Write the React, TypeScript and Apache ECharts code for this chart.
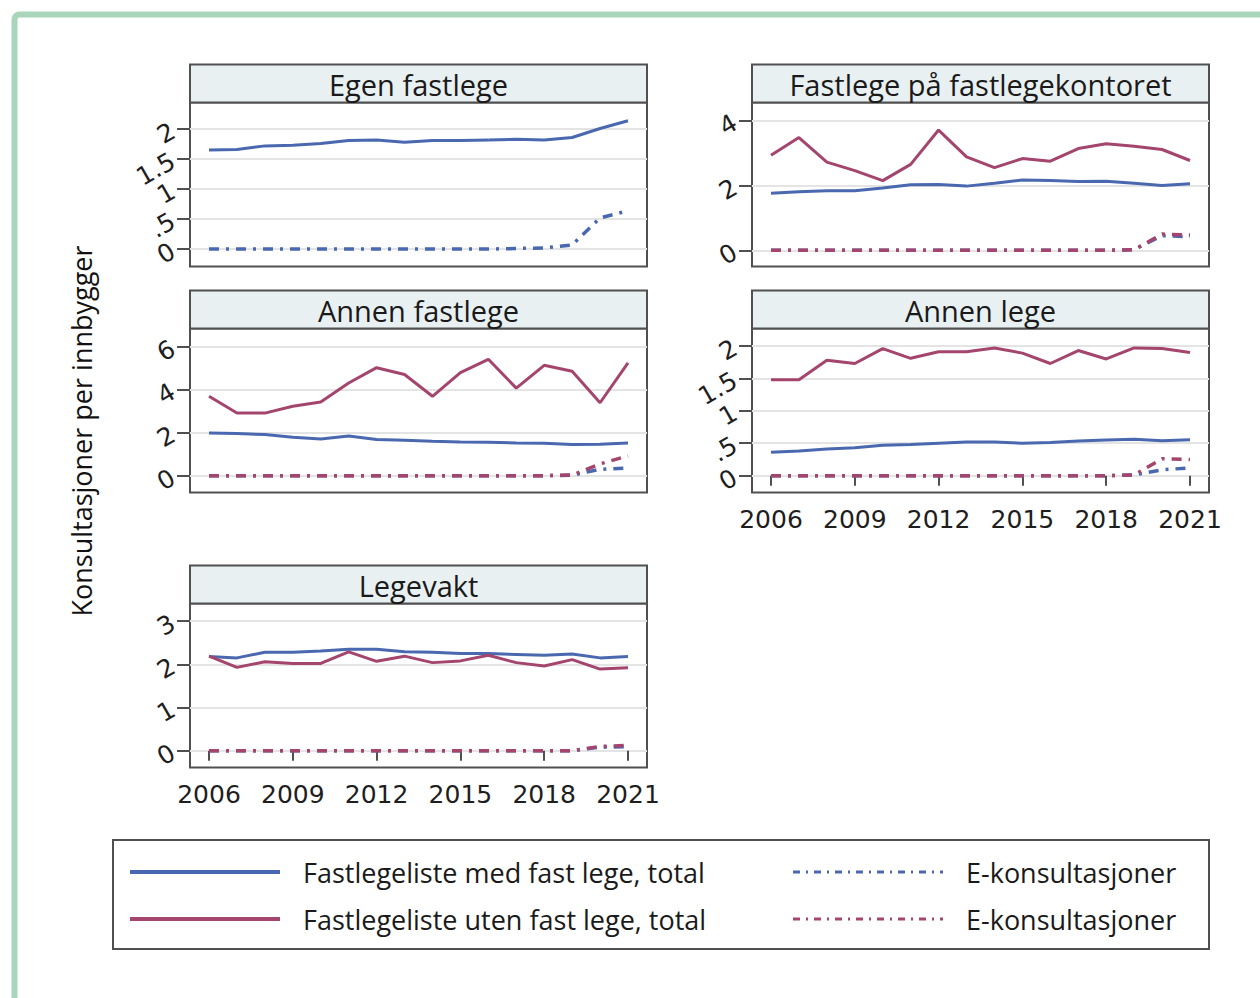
import React, { useEffect, useRef } from "react";
import * as echarts from "echarts";

// ---------- data ----------
const years = [2006, 2007, 2008, 2009, 2010, 2011, 2012, 2013, 2014, 2015, 2016, 2017, 2018, 2019, 2020, 2021];
const xTickYears = [2006, 2009, 2012, 2015, 2018, 2021];

const panelTitles = [
  "Egen fastlege",
  "Fastlege på fastlegekontoret",
  "Annen fastlege",
  "Annen lege",
  "Legevakt",
];

const legendLabels = [
  "Fastlegeliste med fast lege, total",
  "Fastlegeliste uten fast lege, total",
  "E-konsultasjoner",
  "E-konsultasjoner",
];
const yAxisTitle = "Konsultasjoner per innbygger";

// Egen fastlege
const egenMedTotal = [1.65, 1.66, 1.72, 1.73, 1.76, 1.81, 1.82, 1.78, 1.81, 1.81, 1.82, 1.83, 1.82, 1.86, 2.01, 2.14];
const egenMedE = [0, 0, 0, 0, 0, 0, 0, 0, 0, 0, 0, 0.01, 0.02, 0.07, 0.52, 0.64];

// Fastlege på fastlegekontoret
const kontorMedTotal = [1.76, 1.81, 1.84, 1.84, 1.92, 2.02, 2.03, 1.98, 2.07, 2.17, 2.15, 2.12, 2.13, 2.07, 2.0, 2.05];
const kontorUtenTotal = [2.93, 3.48, 2.72, 2.46, 2.15, 2.65, 3.71, 2.88, 2.55, 2.83, 2.75, 3.14, 3.29, 3.21, 3.11, 2.77];
const kontorMedE = [0, 0, 0, 0, 0, 0, 0, 0, 0, 0, 0, 0, 0, 0.02, 0.45, 0.42];
const kontorUtenE = [0, 0, 0, 0, 0, 0, 0, 0, 0, 0, 0, 0, 0, 0.02, 0.5, 0.47];

// Annen fastlege
const annenFMedTotal = [1.99, 1.96, 1.91, 1.79, 1.71, 1.84, 1.68, 1.65, 1.6, 1.57, 1.56, 1.52, 1.51, 1.45, 1.46, 1.52];
const annenFUtenTotal = [3.69, 2.91, 2.91, 3.23, 3.42, 4.31, 5.02, 4.7, 3.69, 4.79, 5.41, 4.07, 5.13, 4.85, 3.39, 5.24];
const annenFMedE = [0, 0, 0, 0, 0, 0, 0, 0, 0, 0, 0, 0, 0, 0.02, 0.3, 0.35];
const annenFUtenE = [0, 0, 0, 0, 0, 0, 0, 0, 0, 0, 0, 0, 0, 0.03, 0.55, 0.92];

// Annen lege
const annenLMedTotal = [0.36, 0.38, 0.41, 0.43, 0.47, 0.48, 0.5, 0.52, 0.52, 0.5, 0.51, 0.535, 0.55, 0.56, 0.54, 0.555];
const annenLUtenTotal = [1.48, 1.48, 1.78, 1.73, 1.96, 1.81, 1.91, 1.91, 1.97, 1.89, 1.73, 1.93, 1.8, 1.97, 1.96, 1.9];
const annenLMedE = [0, 0, 0, 0, 0, 0, 0, 0, 0, 0, 0, 0, 0, 0.01, 0.09, 0.12];
const annenLUtenE = [0, 0, 0, 0, 0, 0, 0, 0, 0, 0, 0, 0, 0, 0.01, 0.26, 0.25];

// Legevakt
const vaktMedTotal = [2.18, 2.15, 2.28, 2.28, 2.31, 2.35, 2.35, 2.29, 2.28, 2.25, 2.25, 2.23, 2.21, 2.24, 2.15, 2.18];
const vaktUtenTotal = [2.19, 1.93, 2.06, 2.02, 2.02, 2.29, 2.07, 2.19, 2.04, 2.08, 2.21, 2.04, 1.96, 2.11, 1.89, 1.92];
const vaktMedE = [0, 0, 0, 0, 0, 0, 0, 0, 0, 0, 0, 0, 0, 0, 0.08, 0.09];
const vaktUtenE = [0, 0, 0, 0, 0, 0, 0, 0, 0, 0, 0, 0, 0, 0, 0.1, 0.12];

// y tick values
const yTicksEgen = [0, 0.5, 1, 1.5, 2];
const yTicksKontor = [0, 2, 4];
const yTicksAnnenF = [0, 2, 4, 6];
const yTicksAnnenL = [0, 0.5, 1, 1.5, 2];
const yTicksVakt = [0, 1, 2, 3];

// ---------- styling ----------
const BLUE = "#4a68b0";
const RED = "#a4456e";
const FRAME = "#505050";
const HEADER_BG = "#e8f0f2";
const DASH = [10, 7, 3, 7];
const TITLE_FONT = '"Open Sans", "Liberation Sans", sans-serif';
const TICK_FONT = '"DejaVu Sans", sans-serif';

const PANEL_W = 457;
const PLOT_H = 164;
const HEADER_H = 38;

type S = { data: number[]; color: string; dashed: boolean };
type Panel = {
  title: string;
  left: number;
  top: number;
  yMin: number;
  yMax: number;
  yTicks: number[];
  showX: boolean;
  series: S[];
};

const panels: Panel[] = [
  {
    title: panelTitles[0], left: 190, top: 102.5, yMin: -0.29, yMax: 2.443, yTicks: yTicksEgen, showX: false,
    series: [
      { data: egenMedTotal, color: BLUE, dashed: false },
      { data: egenMedE, color: BLUE, dashed: true },
    ],
  },
  {
    title: panelTitles[1], left: 752, top: 102.5, yMin: -0.5, yMax: 4.56, yTicks: yTicksKontor, showX: false,
    series: [
      { data: kontorMedTotal, color: BLUE, dashed: false },
      { data: kontorUtenTotal, color: RED, dashed: false },
      { data: kontorMedE, color: BLUE, dashed: true },
      { data: kontorUtenE, color: RED, dashed: true },
    ],
  },
  {
    title: panelTitles[2], left: 190, top: 328.5, yMin: -0.78, yMax: 6.84, yTicks: yTicksAnnenF, showX: false,
    series: [
      { data: annenFMedTotal, color: BLUE, dashed: false },
      { data: annenFUtenTotal, color: RED, dashed: false },
      { data: annenFMedE, color: BLUE, dashed: true },
      { data: annenFUtenE, color: RED, dashed: true },
    ],
  },
  {
    title: panelTitles[3], left: 752, top: 328.5, yMin: -0.26, yMax: 2.27, yTicks: yTicksAnnenL, showX: true,
    series: [
      { data: annenLMedTotal, color: BLUE, dashed: false },
      { data: annenLUtenTotal, color: RED, dashed: false },
      { data: annenLMedE, color: BLUE, dashed: true },
      { data: annenLUtenE, color: RED, dashed: true },
    ],
  },
  {
    title: panelTitles[4], left: 190, top: 603.5, yMin: -0.39, yMax: 3.41, yTicks: yTicksVakt, showX: true,
    series: [
      { data: vaktMedTotal, color: BLUE, dashed: false },
      { data: vaktUtenTotal, color: RED, dashed: false },
      { data: vaktMedE, color: BLUE, dashed: true },
      { data: vaktUtenE, color: RED, dashed: true },
    ],
  },
];

const fmtY = (v: number) => {
  const s = String(v);
  return v > 0 && v < 1 ? s.replace(/^0/, "") : s;
};
const fmtX = (v: number) => String(Math.round(v));

function buildOption() {
  const grid: any[] = [];
  const xAxis: any[] = [];
  const yAxis: any[] = [];
  const series: any[] = [];
  const graphic: any[] = [];

  // outer green frame
  graphic.push({
    type: "rect",
    z: 0,
    shape: { x: 14.5, y: 14.5, width: 1320, height: 1100, r: 5 },
    style: { fill: "none", stroke: "#a9d6ba", lineWidth: 6 },
    silent: true,
  });

  panels.forEach((p, i) => {
    grid.push({
      left: p.left,
      top: p.top,
      width: PANEL_W,
      height: PLOT_H,
      show: true,
      backgroundColor: "#ffffff",
      borderColor: FRAME,
      borderWidth: 2,
      containLabel: false,
      outerBoundsMode: "none",
    });
    xAxis.push({
      gridIndex: i,
      type: "value",
      min: 2005.32,
      max: 2021.68,
      axisLine: { show: false },
      splitLine: { show: false },
      axisTick: {
        show: p.showX,
        customValues: xTickYears,
        length: 10,
        lineStyle: { color: FRAME, width: 2 },
      },
      axisLabel: {
        show: p.showX,
        customValues: xTickYears,
        formatter: fmtX,
        fontSize: 25,
        fontFamily: TICK_FONT,
        color: "#1e1e1e",
        margin: 14,
      },
    });
    yAxis.push({
      gridIndex: i,
      type: "value",
      min: p.yMin,
      max: p.yMax,
      axisLine: { show: false },
      axisTick: {
        show: true,
        customValues: p.yTicks,
        length: 13,
        lineStyle: { color: FRAME, width: 2 },
      },
      axisLabel: {
        customValues: p.yTicks,
        formatter: fmtY,
        rotate: 30,
        fontSize: 25,
        fontFamily: TICK_FONT,
        color: "#1e1e1e",
        margin: 17,
      },
      splitLine: { show: true, lineStyle: { color: "#e4e4e4", width: 2 } },
    });
    p.series.forEach((s) => {
      series.push({
        type: "line",
        xAxisIndex: i,
        yAxisIndex: i,
        data: years.map((y, k) => [y, s.data[k]]),
        showSymbol: false,
        symbol: "none",
        silent: true,
        z: s.dashed ? 4 : 3,
        itemStyle: { color: s.color },
        lineStyle: { color: s.color, width: s.dashed ? 3.5 : 3, type: s.dashed ? DASH : "solid" },
      });
    });

    // header strip
    graphic.push({
      type: "rect",
      z: 5,
      shape: { x: p.left, y: p.top - HEADER_H, width: PANEL_W, height: HEADER_H },
      style: { fill: HEADER_BG, stroke: FRAME, lineWidth: 2 },
      silent: true,
    });
    graphic.push({
      type: "text",
      z: 6,
      x: p.left + PANEL_W / 2,
      y: p.top - HEADER_H / 2 + 1,
      style: {
        text: p.title,
        font: `29px ${TITLE_FONT}`,
        fill: "#1a1a1a",
        align: "center",
        verticalAlign: "middle",
      },
      silent: true,
    });
  });

  // y axis title
  graphic.push({
    type: "text",
    z: 6,
    x: 81,
    y: 431,
    rotation: Math.PI / 2,
    style: {
      text: yAxisTitle,
      font: `27px ${TITLE_FONT}`,
      fill: "#111111",
      align: "center",
      verticalAlign: "middle",
    },
    silent: true,
  });

  // legend box
  graphic.push({
    type: "rect",
    z: 5,
    shape: { x: 113, y: 840, width: 1096, height: 109 },
    style: { fill: "#ffffff", stroke: FRAME, lineWidth: 2 },
    silent: true,
  });
  const legendItems = [
    { label: legendLabels[0], color: BLUE, dashed: false, x: 130, y: 872 },
    { label: legendLabels[1], color: RED, dashed: false, x: 130, y: 919 },
    { label: legendLabels[2], color: BLUE, dashed: true, x: 793, y: 872 },
    { label: legendLabels[3], color: RED, dashed: true, x: 793, y: 919 },
  ];
  legendItems.forEach((it) => {
    graphic.push({
      type: "line",
      z: 6,
      shape: { x1: it.x, y1: it.y, x2: it.x + 150, y2: it.y },
      style: {
        stroke: it.color,
        lineWidth: it.dashed ? 3 : 4,
        lineDash: it.dashed ? [7, 6, 2, 6] : null,
      },
      silent: true,
    });
    graphic.push({
      type: "text",
      z: 6,
      x: it.x + 173,
      y: it.y,
      style: {
        text: it.label,
        font: `27px ${TITLE_FONT}`,
        fill: "#1a1a1a",
        align: "left",
        verticalAlign: "middle",
      },
      silent: true,
    });
  });

  return {
    animation: false,
    backgroundColor: "#ffffff",
    grid,
    xAxis,
    yAxis,
    series,
    graphic,
  };
}

export default function App() {
  const ref = useRef<HTMLDivElement>(null);
  useEffect(() => {
    if (!ref.current) return;
    const chart = echarts.init(ref.current, undefined, { renderer: "svg" });
    chart.setOption(buildOption() as any);
    return () => chart.dispose();
  }, []);
  return (
    <div
      ref={ref}
      style={{ position: "absolute", left: 0, top: 0, width: 1260, height: 998 }}
    />
  );
}
